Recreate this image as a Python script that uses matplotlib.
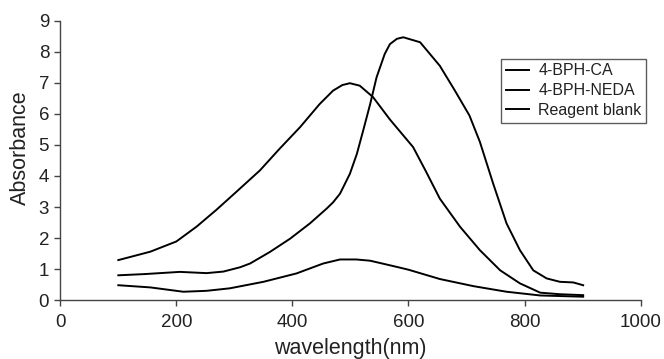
import matplotlib
matplotlib.use("Agg")
import matplotlib.pyplot as plt

plt.rcParams['font.family'] = ['Liberation Sans', 'DejaVu Sans']

# 4-BPH-CA (peak ~500 nm)
wl_ca = [100, 155, 200, 235, 269, 304, 344, 378, 413, 447, 470, 486, 499, 516, 539, 568, 608, 630, 654,
         689, 723, 758, 792, 827, 861, 901]
abs_ca = [1.29, 1.56, 1.89, 2.37, 2.91, 3.50, 4.18, 4.88, 5.57, 6.32, 6.75, 6.93, 6.99, 6.91, 6.54, 5.82,
          4.93, 4.15, 3.27, 2.36, 1.61, 0.96, 0.54, 0.24, 0.19, 0.16]

# 4-BPH-NEDA (peak ~590 nm)
wl_neda = [100, 146, 206, 252, 281, 310, 327, 361, 396, 430, 459, 470, 482, 499, 511, 522, 534,
           545, 559, 568, 580, 591, 620, 654, 680, 705, 723, 746, 769, 792, 815, 838, 861, 884, 901]
abs_neda = [0.80, 0.84, 0.91, 0.87, 0.92, 1.06, 1.18, 1.55, 1.98, 2.47, 2.95, 3.15, 3.43, 4.07, 4.71,
            5.47, 6.32, 7.18, 7.93, 8.25, 8.42, 8.47, 8.31, 7.55, 6.75, 5.95, 5.10, 3.75, 2.47, 1.61,
            0.96, 0.70, 0.59, 0.57, 0.48]

# Reagent blank
wl_blank = [100, 155, 212, 252, 292, 350, 407, 453, 482, 510, 534, 580, 600, 654, 712, 769, 827, 901]
abs_blank = [0.48, 0.41, 0.27, 0.30, 0.38, 0.59, 0.86, 1.18, 1.31, 1.31, 1.27, 1.07, 0.98, 0.68,
             0.45, 0.27, 0.15, 0.11]

labels = ["4-BPH-CA", "4-BPH-NEDA", "Reagent blank"]
x_ticks = [0, 200, 400, 600, 800, 1000]
y_ticks = list(range(0, 10))

fig = plt.figure(figsize=(6.64, 3.59), dpi=100)
ax = fig.add_axes([0.0908, 0.164, 0.874, 0.778])

for wl, a, lab in zip([wl_ca, wl_neda, wl_blank], [abs_ca, abs_neda, abs_blank], labels):
    ax.plot(wl, a, color='black', lw=1.4, label=lab, solid_joinstyle='round')

ax.set_xlim(0, 1000)
ax.set_ylim(0, 9)
ax.set_xticks(x_ticks)
ax.set_yticks(y_ticks)
ax.spines['top'].set_visible(False)
ax.spines['right'].set_visible(False)
for s in ['left', 'bottom']:
    ax.spines[s].set_linewidth(1.0)
    ax.spines[s].set_color('#444444')
ax.tick_params(direction='out', length=4, width=1.0, labelsize=13.5, colors='#444444',
               labelcolor='#222222')
ax.tick_params(axis='x', pad=6)
ax.tick_params(axis='y', pad=4)
ax.set_xlabel("wavelength(nm)", fontsize=15.5, labelpad=5, color='#222222')
ax.set_ylabel("Absorbance", fontsize=15.5, color='#222222')
ax.yaxis.set_label_coords(-0.050, 0.546)

leg = ax.legend(loc='upper right', bbox_to_anchor=(1.01, 0.865), borderaxespad=0,
                fontsize=11.5, frameon=True, fancybox=False, edgecolor='#333333',
                handlelength=1.45, handletextpad=0.56, labelspacing=0.3, borderpad=0.3)
leg.get_frame().set_linewidth(1.0)
for t in leg.get_texts():
    t.set_color('#222222')

fig.savefig("out.png", dpi=100)
